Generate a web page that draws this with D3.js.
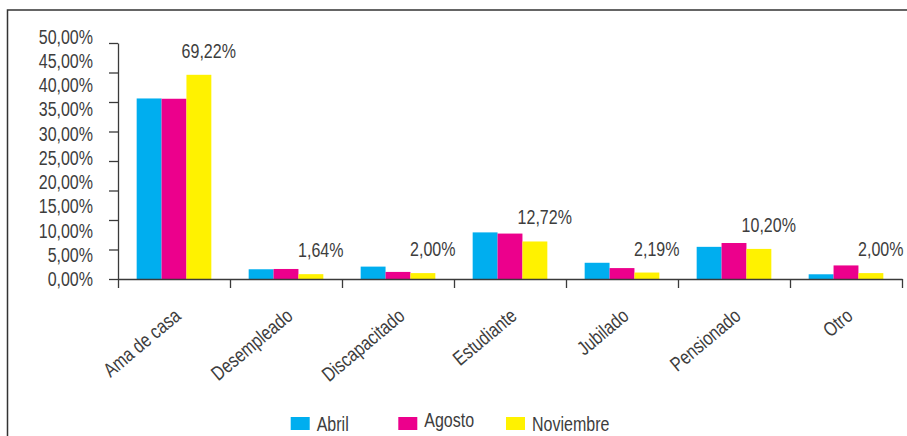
<!DOCTYPE html>
<html>
<head>
<meta charset="utf-8">
<script src="https://cdn.jsdelivr.net/npm/d3@7"></script>
<style>
  body { margin: 0; background: #fff; }
  svg text { font-family: "Liberation Sans", Arial, sans-serif; fill: #3d3d3d; font-size: 20px; }
</style>
</head>
<body>
<script>
//////////////////////
// DATA //
const categories = ["Ama de casa", "Desempleado", "Discapacitado", "Estudiante", "Jubilado", "Pensionado", "Otro"];
const series = ["Abril", "Agosto", "Noviembre"];
const abril = [61.2, 3.3, 4.2, 15.8, 5.5, 10.9, 1.6];
const agosto = [61.1, 3.4, 2.4, 15.4, 3.7, 12.2, 4.6];
const noviembre = [69.22, 1.64, 2.00, 12.72, 2.19, 10.20, 2.00];
const valueLabels = ["69,22%", "1,64%", "2,00%", "12,72%", "2,19%", "10,20%", "2,00%"];
// the printed axis labels (they do not line up with the real ticks)
const yTickLabels = ["0,00%", "5,00%", "10,00%", "15,00%", "20,00%", "25,00%", "30,00%", "35,00%", "40,00%", "45,00%", "50,00%"];
const yTicks = [0, 10, 20, 30, 40, 50, 60, 70, 80];
const colors = ["#00aeef", "#ec008c", "#fff200"];
//////////////////////

const w = 907;
const h = 436;
const values = [abril, agosto, noviembre];
const narrow = "scale(0.8,1)"; // condensed look

let svg = d3.select("body")
  .append("svg")
  .attr("width", w)
  .attr("height", h);

// outer frame
svg.append("rect")
  .attr("x", 7.5)
  .attr("y", 10)
  .attr("width", w + 20)
  .attr("height", h + 20)
  .attr("fill", "none")
  .attr("stroke", "#333")
  .attr("stroke-width", 1.5);

// scales
let x0 = d3.scaleBand()
  .domain(categories)
  .range([118, 902]);
let x1 = d3.scaleBand()
  .domain(series)
  .range([0, x0.bandwidth()])
  .paddingOuter(0.75);
let y = d3.scaleLinear()
  .domain([0, 80])
  .range([279, 43]);
let yLab = d3.scaleLinear()
  .domain([0, yTickLabels.length - 1])
  .range([279, 36.5]);

// bars
let groups = svg.selectAll("g.cat")
  .data(categories)
  .enter()
  .append("g")
  .attr("class", "cat")
  .attr("transform", d => "translate(" + x0(d) + ",0)");

groups.selectAll("rect")
  .data((d, i) => series.map((s, j) => ({ s: s, v: values[j][i], c: colors[j] })))
  .enter()
  .append("rect")
  .attr("x", d => x1(d.s))
  .attr("y", d => y(d.v))
  .attr("width", x1.bandwidth())
  .attr("height", d => y(0) - y(d.v))
  .attr("fill", d => d.c);

// value labels above each group (Noviembre value)
groups.append("text")
  .attr("text-anchor", "middle")
  .attr("transform", (d, i) => "translate(" + (x0.bandwidth() * 0.81) + "," + (y(noviembre[i]) - 17) + ") " + narrow)
  .text((d, i) => valueLabels[i]);

// y axis (ticks only)
let yAxis = svg.append("g")
  .attr("transform", "translate(118,0)")
  .call(d3.axisLeft(y).tickValues(yTicks).tickSize(9).tickSizeOuter(0).tickFormat(""));

// x axis: ticks at band boundaries
let xEdges = d3.scaleLinear().domain([0, categories.length]).range(x0.range());
let xAxis = svg.append("g")
  .attr("transform", "translate(0,279)")
  .call(d3.axisBottom(xEdges).ticks(categories.length).tickSize(9).tickSizeOuter(0).tickFormat(""));

[yAxis, xAxis].forEach(a => {
  a.selectAll("path, line").attr("stroke", "#3a3a3a").attr("stroke-width", 1.3);
});

// y labels
svg.selectAll("text.ylab")
  .data(yTickLabels)
  .enter()
  .append("text")
  .attr("class", "ylab")
  .attr("text-anchor", "end")
  .attr("transform", (d, i) => "translate(93," + (yLab(i) + 7.2) + ") " + narrow)
  .text(d => d);

// category labels
svg.selectAll("text.xlab")
  .data(categories)
  .enter()
  .append("text")
  .attr("class", "xlab")
  .attr("text-anchor", "end")
  .attr("transform", d => "translate(" + (x0(d) + x0.bandwidth() / 2 + 8) + ",318) rotate(-40) " + narrow)
  .text(d => d);

// legend
const legendX = [290.7, 398.3, 506];
const legendDy = [0, -4, 0];
let legend = svg.selectAll("g.legend")
  .data(series)
  .enter()
  .append("g")
  .attr("class", "legend")
  .attr("transform", (d, i) => "translate(" + legendX[i] + ",417)");
legend.append("rect")
  .attr("width", 19)
  .attr("height", 13)
  .attr("fill", (d, i) => colors[i]);
legend.append("text")
  .attr("transform", (d, i) => "translate(26," + (14 + legendDy[i]) + ") " + narrow)
  .text(d => d);
</script>
</body>
</html>
